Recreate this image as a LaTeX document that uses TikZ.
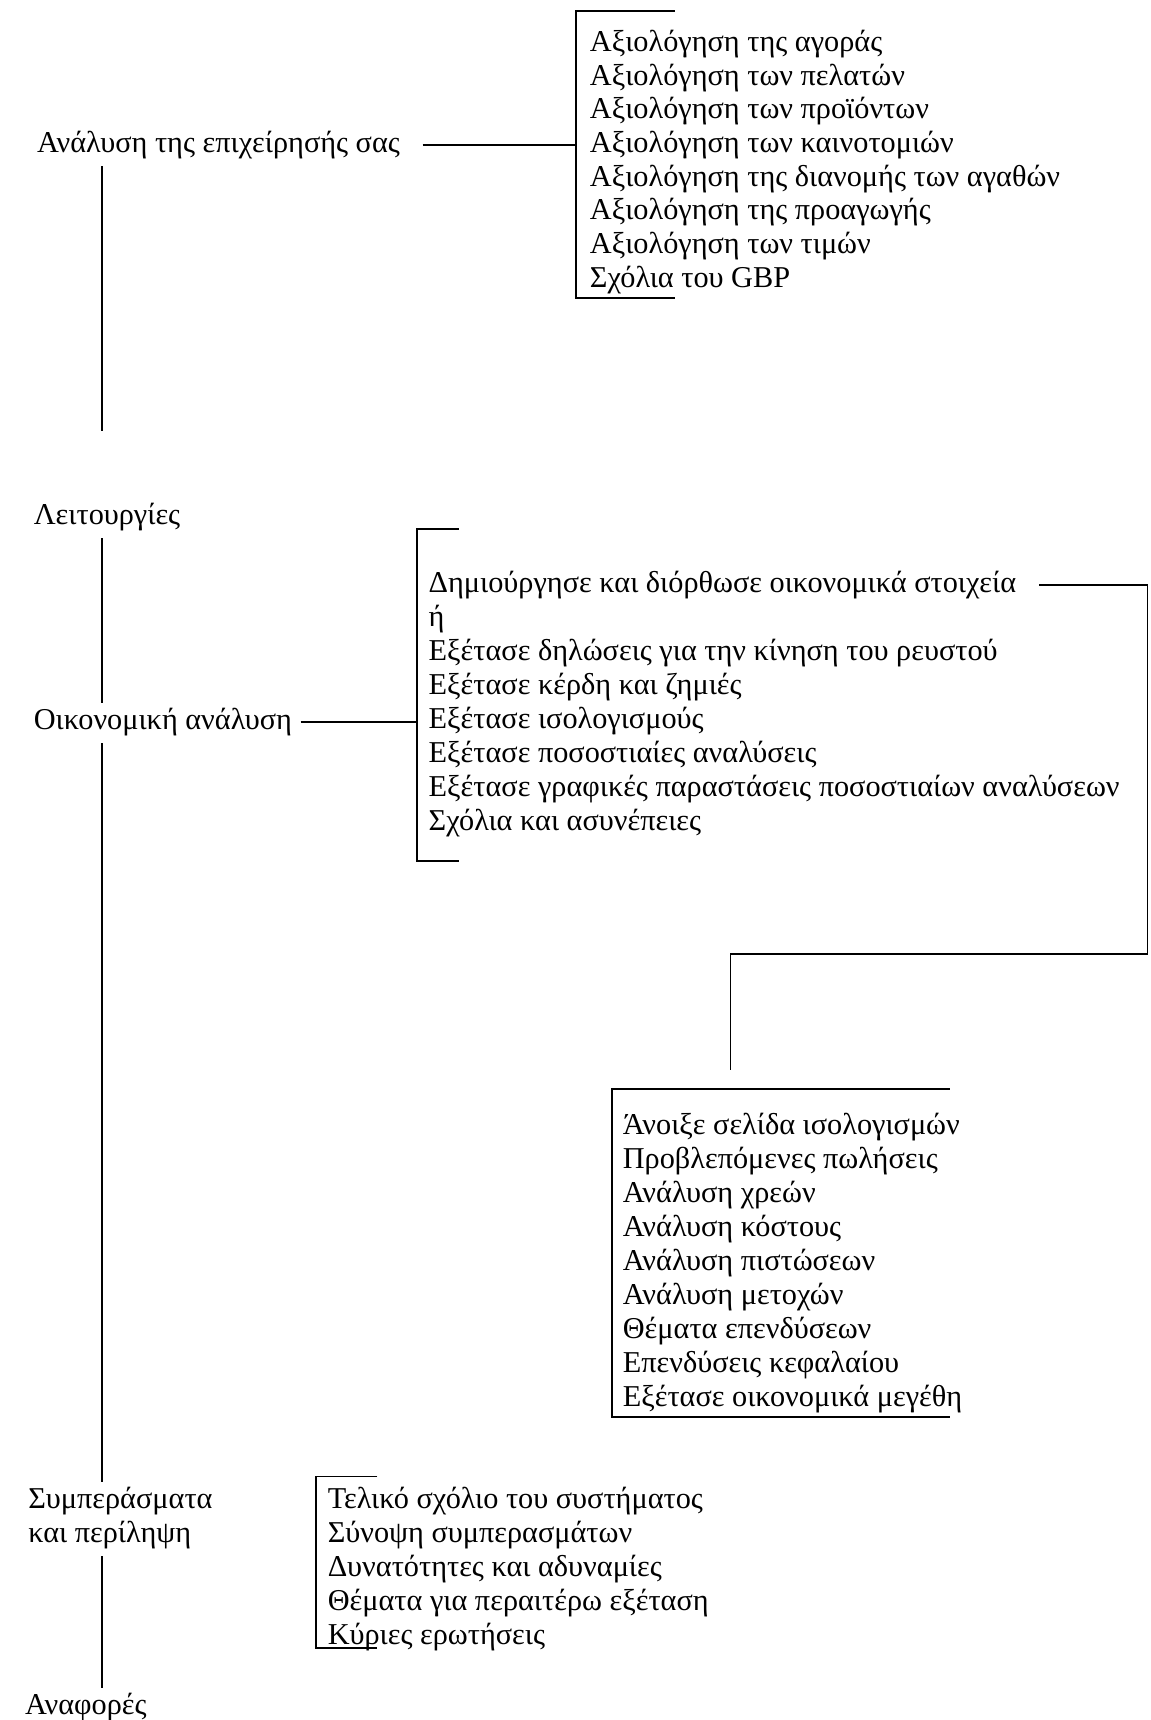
\documentclass[tikz,border=0pt]{standalone}
\usepackage{fontspec}
\setmainfont{Liberation Serif}
\usetikzlibrary{positioning}

\begin{document}
\begin{tikzpicture}[x=0.5pt,y=-0.5pt,line width=0.8pt,
    head/.style={anchor=base west,inner sep=0pt,font=\fontsize{13.8}{15}\selectfont},
    item/.style={anchor=base west,inner sep=0pt,font=\fontsize{13.8}{15}\selectfont}]
  \useasboundingbox (0,0) rectangle (1049,1568);
  % Main column
  \node[head] (anal) at (33,139) {Ανάλυση της επιχείρησής σας};
  \node[head] (leit) at (30,478) {Λειτουργίες};
  \node[head] (oik) at (30,665) {Οικονομική ανάλυση};
  \node[head] (symp) at (25,1375) {Συμπεράσματα};
  \node[head] (perl) at (25,1406) {και περίληψη};
  \node[head] (anaf) at (22,1563) {Αναφορές};
  \coordinate (spine) at (93,0);
  \coordinate (gap) at (93,393);
  \draw ([yshift=-3pt]anal.south -| spine) -- (gap);
  \draw ([yshift=-3pt]leit.south -| spine) -- ([yshift=2pt]oik.north -| spine);
  \draw ([yshift=-3pt]oik.south -| spine) -- ([yshift=2pt]symp.north -| spine);
  \draw ([yshift=-3pt]perl.south -| spine) -- ([yshift=2pt]anaf.north -| spine);
  % Evaluation list
  \foreach \t [count=\i] in {Αξιολόγηση της αγοράς, Αξιολόγηση των πελατών,
      Αξιολόγηση των προϊόντων, Αξιολόγηση των καινοτομιών,
      Αξιολόγηση της διανομής των αγαθών, Αξιολόγηση της προαγωγής,
      Αξιολόγηση των τιμών, Σχόλια του GBP}
    \node[item] (ev\i) at (537,{47+30.7*(\i-1)}) {\t};
  \coordinate (b1t) at (525,10);
  \coordinate (b1b) at (525,272);
  \draw (b1t) ++(90,0) -- (b1t) -- (b1b) -- ++(90,0);
  \draw ([xshift=10pt]anal.east) -- (anal.east -| b1t);
  % Financial list
  \foreach \t [count=\i] in {Δημιούργησε και διόρθωσε οικονομικά στοιχεία, ή,
      Εξέτασε δηλώσεις για την κίνηση του ρευστού, Εξέτασε κέρδη και ζημιές,
      Εξέτασε ισολογισμούς, Εξέτασε ποσοστιαίες αναλύσεις,
      Εξέτασε γραφικές παραστάσεις ποσοστιαίων αναλύσεων,
      Σχόλια και ασυνέπειες}
    \node[item] (cf\i) at (390,{540+31*(\i-1)}) {\t};
  \coordinate (b2t) at (380,482);
  \coordinate (b2b) at (380,785);
  \draw (b2t) ++(38,0) -- (b2t) -- (b2b) -- ++(38,0);
  \draw ([xshift=3.5pt]oik.east) -- (oik.east -| b2t);
  \coordinate (turn) at (1046,870);
  \coordinate (drop) at (666,975);
  \draw ([xshift=10pt]cf1.east) -| (turn) -| (drop);
  % Balance sheet list
  \foreach \t [count=\i] in {Άνοιξε σελίδα ισολογισμών, Προβλεπόμενες πωλήσεις,
      Ανάλυση χρεών, Ανάλυση κόστους, Ανάλυση πιστώσεων, Ανάλυση μετοχών,
      Θέματα επενδύσεων, Επενδύσεις κεφαλαίου, Εξέτασε οικονομικά μεγέθη}
    \node[item] (bs\i) at (567,{1034+31*(\i-1)}) {\t};
  \coordinate (b3t) at (558,993);
  \coordinate (b3b) at (558,1292);
  \draw (b3t) ++(308,0) -- (b3t) -- (b3b) -- ++(308,0);
  % Conclusions list
  \foreach \t [count=\i] in {Τελικό σχόλιο του συστήματος, Σύνοψη συμπερασμάτων,
      Δυνατότητες και αδυναμίες, Θέματα για περαιτέρω εξέταση, Κύριες ερωτήσεις}
    \node[item] (cn\i) at (298,{1375+31*(\i-1)}) {\t};
  \coordinate (b4t) at (288,1346);
  \coordinate (b4b) at (288,1502);
  \draw (b4t) ++(56,0) -- (b4t) -- (b4b) -- ++(56,0);
\end{tikzpicture}
\end{document}
